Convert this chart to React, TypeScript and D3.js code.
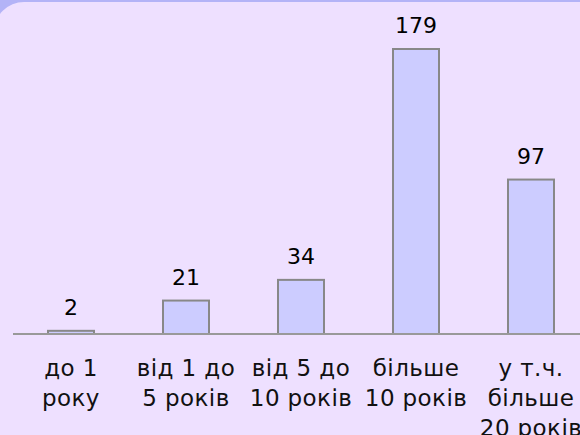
import React, { useEffect, useRef } from 'react';
import * as d3 from 'd3';

const categories = ['до 1 року', 'від 1 до 5 років', 'від 5 до 10 років', 'більше 10 років', 'у т.ч. більше 20 років'];
const categoryLines = [
  ['до 1', 'року'],
  ['від 1 до', '5 років'],
  ['від 5 до', '10 років'],
  ['більше', '10 років'],
  ['у т.ч.', 'більше', '20 років'],
];
const values = [2, 21, 34, 179, 97];

const App: React.FC = () => {
  const svgRef = useRef<SVGSVGElement>(null);

  useEffect(() => {
    if (!svgRef.current) return;
    d3.select(svgRef.current).selectAll('*').remove();

    const width = 580;
    const height = 435;
    const baseY = 334;
    const font = 'Verdana, "DejaVu Sans", sans-serif';

    const svg = d3.select(svgRef.current).attr('width', width).attr('height', height);

    // background
    svg.append('rect').attr('width', width).attr('height', height).attr('fill', '#b3b3f7');
    svg.append('rect')
      .attr('x', -6).attr('y', 2)
      .attr('width', width + 40).attr('height', height + 40)
      .attr('rx', 30)
      .attr('fill', '#eee0ff');

    const x = d3.scaleBand<string>()
      .domain(categories)
      .range([13.5, 588.5])
      .paddingInner(0.6)
      .paddingOuter(0.3);

    const y = d3.scaleLinear().domain([0, 179]).range([baseY, 49]);

    // bars
    svg.selectAll('rect.bar')
      .data(values)
      .enter()
      .append('rect')
      .attr('class', 'bar')
      .attr('x', (d, i) => x(categories[i])!)
      .attr('y', d => y(d))
      .attr('width', x.bandwidth())
      .attr('height', d => baseY - y(d))
      .attr('fill', '#ccccff')
      .attr('stroke', '#888888')
      .attr('stroke-width', 2);

    // baseline
    svg.append('line')
      .attr('x1', 13).attr('x2', width)
      .attr('y1', baseY).attr('y2', baseY)
      .attr('stroke', '#999999')
      .attr('stroke-width', 2);

    // value labels
    svg.selectAll('text.val')
      .data(values)
      .enter()
      .append('text')
      .attr('class', 'val')
      .attr('x', (d, i) => x(categories[i])! + x.bandwidth() / 2)
      .attr('y', d => y(d) - 16)
      .attr('text-anchor', 'middle')
      .style('font-family', font)
      .style('font-size', '22px')
      .attr('fill', '#000')
      .text(d => d);

    // category labels
    categoryLines.forEach((lines, i) => {
      const cx = x(categories[i])! + x.bandwidth() / 2;
      const t = svg.append('text')
        .attr('text-anchor', 'middle')
        .style('font-family', font)
        .style('font-size', '23px')
        .style('letter-spacing', '0.4px')
        .attr('fill', '#111');
      lines.forEach((ln, j) => {
        t.append('tspan').attr('x', cx).attr('y', 376 + j * 30).text(ln);
      });
    });
  }, []);

  return (
    <div style={{ position: 'fixed', left: 0, top: 0 }}>
      <svg ref={svgRef} style={{ display: 'block' }}></svg>
    </div>
  );
};

export default App;
